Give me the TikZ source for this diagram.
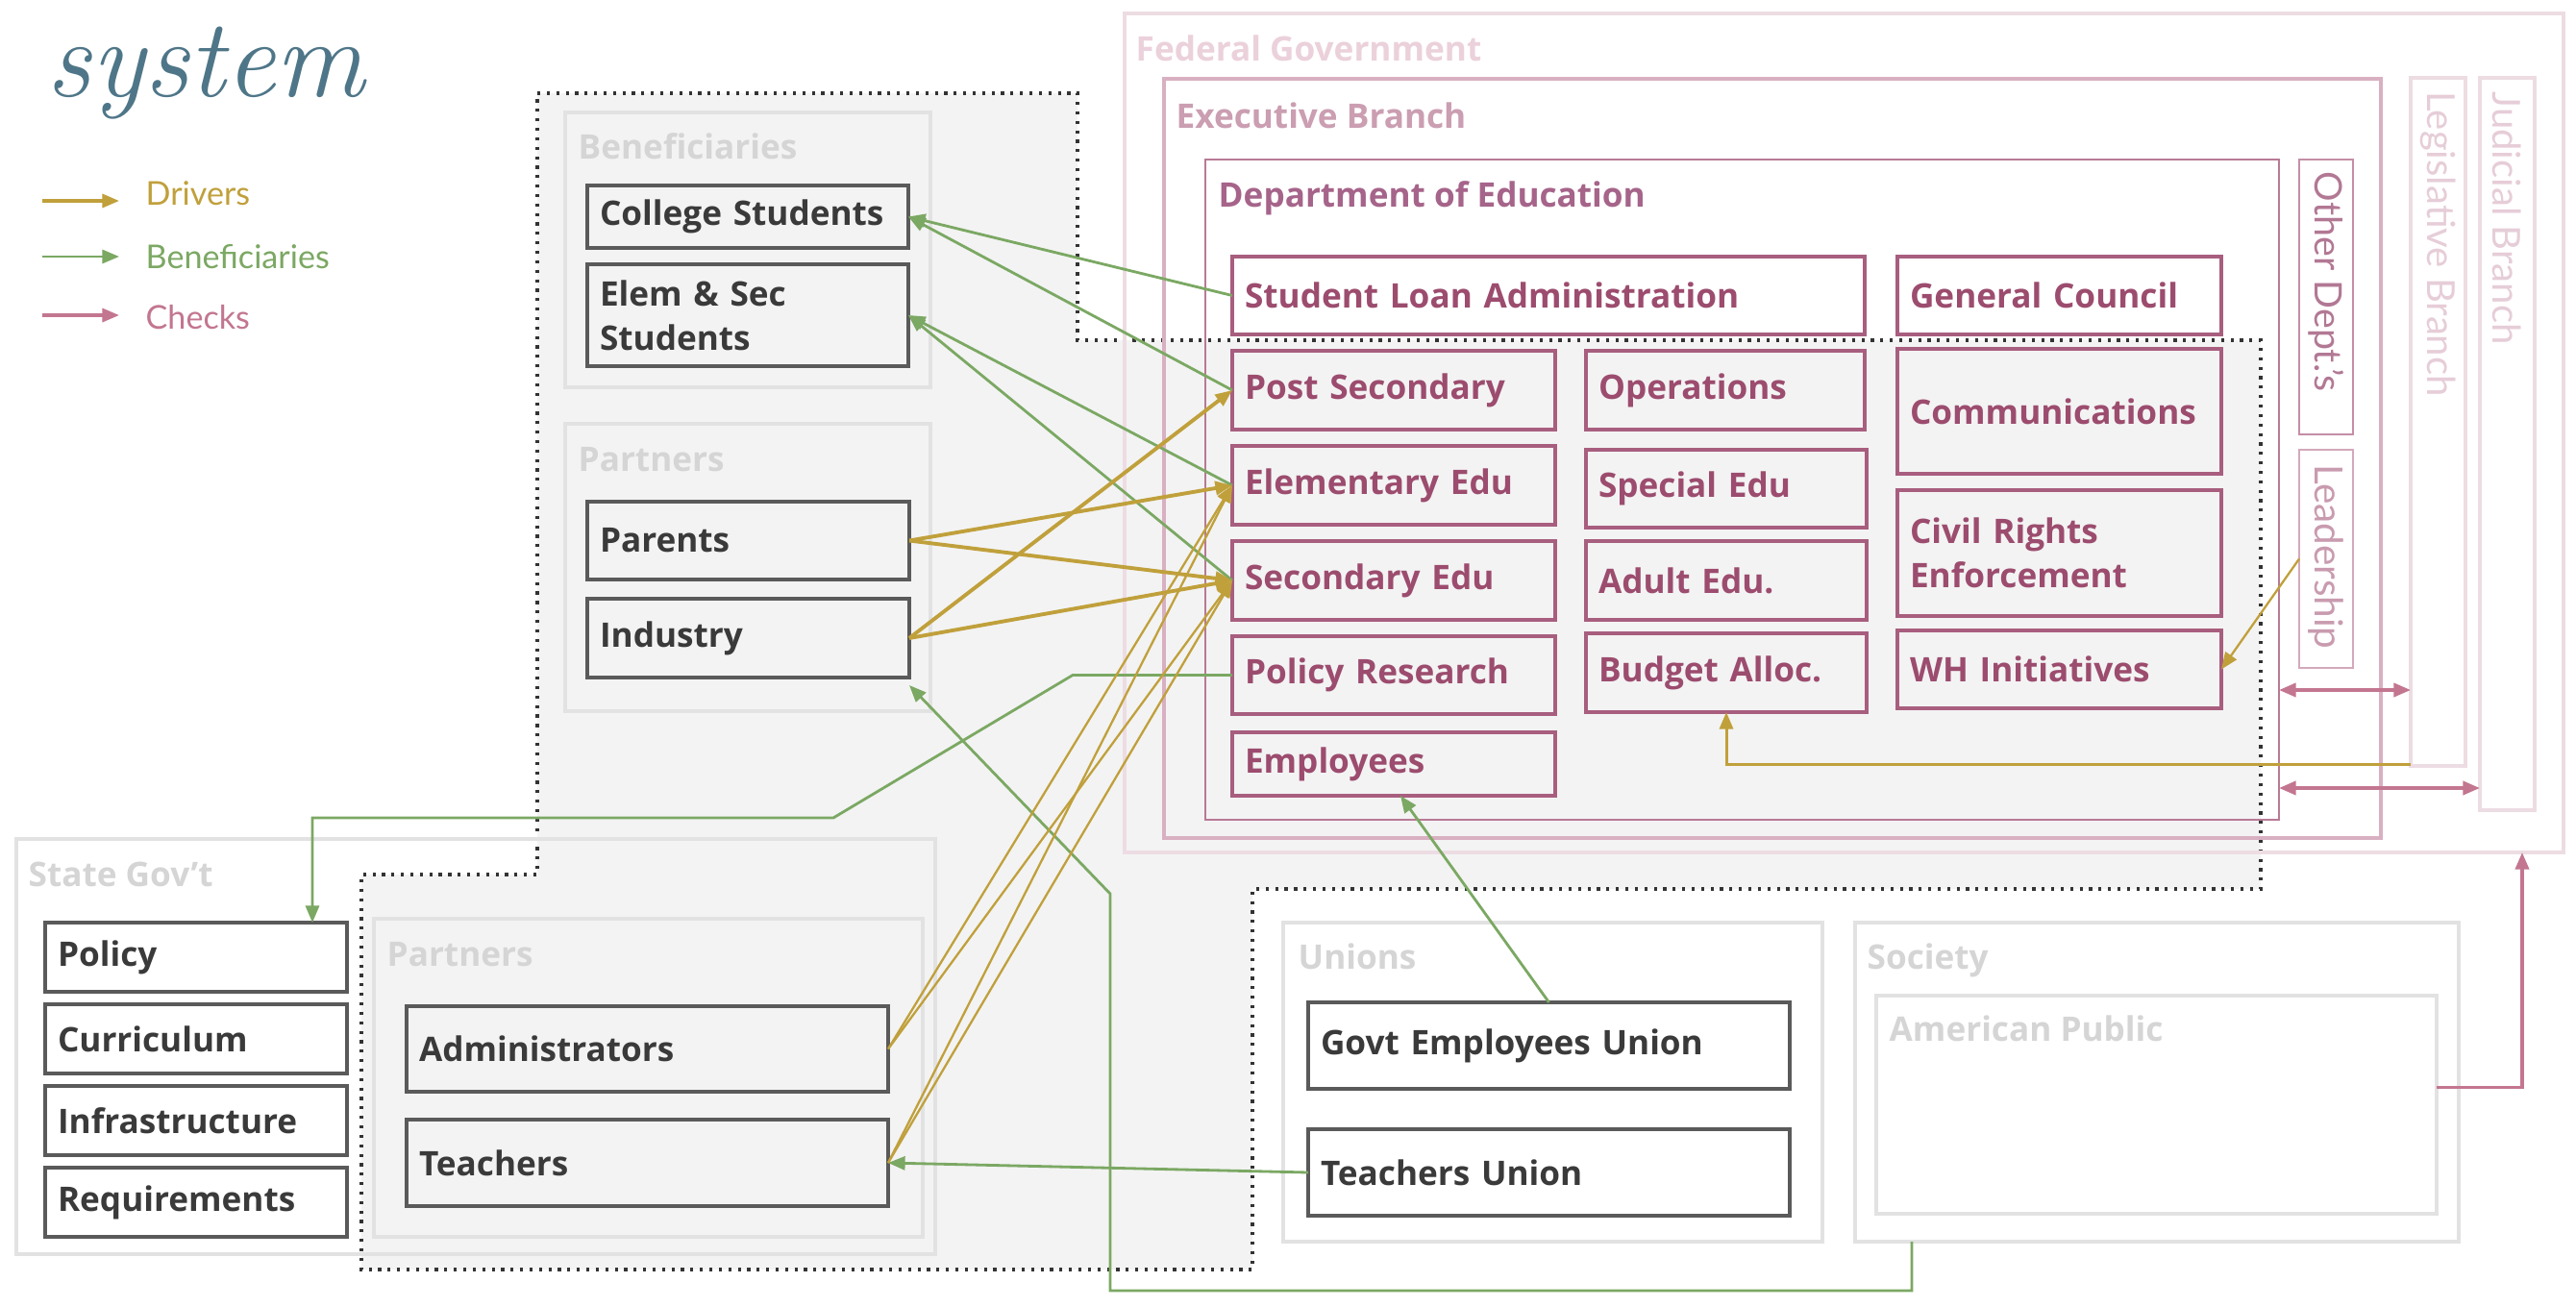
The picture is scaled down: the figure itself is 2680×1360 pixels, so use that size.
\documentclass[tikz,border=0pt]{standalone}
\usepackage{fontspec}
\newfontfamily\eduSans{Lato}
\newfontfamily\eduWide{Open Sans}
\usetikzlibrary{arrows.meta}
\definecolor{eduInk}{HTML}{3A3A3A}
\definecolor{eduEdge}{HTML}{5A5A5A}
\definecolor{eduShade}{HTML}{F3F3F3}
\definecolor{eduFrame}{HTML}{E2E2E2}
\definecolor{eduFaint}{HTML}{D5D5D5}
\definecolor{eduMauve}{HTML}{9C4C6E}
\definecolor{eduMauveEdge}{HTML}{A85E7E}
\definecolor{eduDoe}{HTML}{B87A95}
\definecolor{eduDoeText}{HTML}{A6648A}
\definecolor{eduExec}{HTML}{D8B0C1}
\definecolor{eduExecText}{HTML}{CB9EB1}
\definecolor{eduFed}{HTML}{EDDCE3}
\definecolor{eduFedText}{HTML}{EBD1DB}
\definecolor{eduOther}{HTML}{C48EA6}
\definecolor{eduOtherText}{HTML}{B27894}
\definecolor{eduLead}{HTML}{D4A9BB}
\definecolor{eduLeadText}{HTML}{C99BAF}
\definecolor{eduBranchText}{HTML}{E6CDD8}
\definecolor{eduGold}{HTML}{C0A03B}
\definecolor{eduGreen}{HTML}{7BA863}
\definecolor{eduPink}{HTML}{C37690}
\definecolor{eduSlate}{HTML}{4E7688}
\tikzset{
  edu region/.style={fill=eduShade, draw=black!80, line width=0.9pt, dash pattern=on 0.9pt off 1.9pt},
  edu size/.style 2 args={minimum width=#1*0.01cm, minimum height=#2*0.01cm},
  edu wh/.code 2 args={\pgfmathsetlengthmacro\eduTextW{(#1-26)*0.01cm}%
    \pgfkeysalso{minimum width=#1*0.01cm, minimum height=#2*0.01cm, text width/.expand once=\eduTextW}},
  edu frame/.style={draw=eduFrame, line width=0.9pt, anchor=north west, inner sep=0pt, outer sep=0pt},
  edu box/.style={draw=eduEdge, line width=0.9pt, anchor=north west, inner xsep=0.13cm, inner ysep=0pt,
    outer sep=0pt, align=left, font=\eduWide\bfseries\fontsize{10}{13}\selectfont, text=eduInk},
  edu dept/.style={edu box, draw=eduMauveEdge, text=eduMauve},
  edu label/.style={anchor=base west, inner sep=0pt, font=\eduWide\bfseries\fontsize{10}{12}\selectfont, text=eduFaint},
  edu vlabel/.style={rotate=-90, anchor=west, inner sep=0pt, font=\eduSans\fontsize{11.2}{12}\selectfont},
  edu key/.style={anchor=base west, inner sep=0pt, font=\eduSans\fontsize{9.7}{12}\selectfont},
  edu tip/.style={-{Triangle[length=5pt,width=4pt]}},
  edu driver/.style={draw=eduGold, line width=1.1pt, edu tip},
  edu driver thin/.style={edu driver, line width=0.65pt},
  edu benefit/.style={draw=eduGreen, line width=0.8pt, edu tip},
  edu check/.style={draw=eduPink, line width=1pt, edu tip},
  edu check both/.style={edu check, {Triangle[length=5pt,width=4pt]}-{Triangle[length=5pt,width=4pt]}},
}
\begin{document}
\begin{tikzpicture}[x=0.01cm,y=-0.01cm]
  \useasboundingbox (0,0) rectangle (2680,1360);
  \fill[white] (0,0) rectangle (2680,1360);
  % shaded working area
  \draw[edu region] (559,97) -- (1121,97) -- (1121,354) -- (2352,354) -- (2352,925) -- (1303,925)
    -- (1303,1321) -- (376,1321) -- (376,910) -- (559,910) -- cycle;

  % title and key
  \node[anchor=base west, inner sep=0pt, text=eduSlate, font=\itshape\fontsize{33}{36}\selectfont] (title) at (48,100) {system};
  \coordinate (keyD0) at (44,209); \coordinate (keyD1) at (124,209);
  \coordinate (keyB0) at (44,267); \coordinate (keyB1) at (124,267);
  \coordinate (keyC0) at (44,328); \coordinate (keyC1) at (124,328);
  \draw[edu driver, line width=0.9pt] (keyD0) -- (keyD1);
  \draw[edu benefit] (keyB0) -- (keyB1);
  \draw[edu check, line width=0.9pt] (keyC0) -- (keyC1);
  \node[edu key, text=eduGold] (keyDrivers) at (151,213) {Drivers};
  \node[edu key, text=eduGreen] (keyBenefit) at (151,279) {Beneficiaries};
  \node[edu key, text=eduPink] (keyChecks) at (151,342) {Checks};

  % federal frames
  \node[edu frame, edu size={1497}{873}, draw=eduFed] (fedGov) at (1170,14) {};
  \node[edu label, text=eduFedText] (fedLabel) at (1181,63) {Federal Government};
  \node[edu frame, edu size={1266}{790}, draw=eduExec] (exec) at (1211,82) {};
  \node[edu label, text=eduExecText] (execLabel) at (1223,133) {Executive Branch};
  \node[edu frame, edu size={1117}{687}, draw=eduDoe, line width=0.8pt] (doe) at (1254,166) {};
  \node[edu label, text=eduDoeText] (doeLabel) at (1267,215) {Department of Education};
  \node[edu frame, edu size={56}{286}, draw=eduOther, line width=0.8pt] (otherDept) at (2392,166) {};
  \node[edu vlabel, text=eduOtherText] (otherLabel) at ([yshift=-0.12cm]otherDept.north) {Other Dept.’s};
  \node[edu frame, edu size={56}{227}, draw=eduLead, line width=0.8pt] (leader) at (2392,468) {};
  \node[edu vlabel, text=eduLeadText, font=\eduSans\fontsize{11.5}{12}\selectfont] (leaderLabel) at ([yshift=-0.15cm]leader.north) {Leadership};
  \node[edu frame, edu size={57}{716}, draw=eduFed] (legis) at (2508,81) {};
  \node[edu vlabel, text=eduBranchText, font=\eduSans\fontsize{11.4}{12}\selectfont] (legisLabel) at ([yshift=-0.14cm]legis.north) {Legislative Branch};
  \node[edu frame, edu size={57}{762}, draw=eduFed] (judic) at (2580,81) {};
  \node[edu vlabel, text=eduBranchText, font=\eduSans\fontsize{11.4}{12}\selectfont] (judicLabel) at ([yshift=-0.14cm]judic.north) {Judicial Branch};

  % other frames
  \node[edu frame, edu size={380}{286}] (benGroup) at (588,117) {};
  \node[edu label] (benLabel) at (601,165) {Beneficiaries};
  \node[edu frame, edu size={380}{299}] (partUp) at (588,441) {};
  \node[edu label] (partUpLabel) at (601,490) {Partners};
  \node[edu frame, edu size={956}{432}] (stateGov) at (17,873) {};
  \node[edu label] (stateLabel) at (29,922) {State Gov’t};
  \node[edu frame, edu size={571}{331}] (partLow) at (389,956) {};
  \node[edu label] (partLowLabel) at (402,1005) {Partners};
  \node[edu frame, edu size={561}{332}] (unions) at (1335,960) {};
  \node[edu label] (unionsLabel) at (1350,1008) {Unions};
  \node[edu frame, edu size={628}{332}] (society) at (1930,960) {};
  \node[edu label] (societyLabel) at (1942,1008) {Society};
  \node[edu frame, edu size={583}{227}] (amPublic) at (1952,1036) {};
  \node[edu label] (amPublicLabel) at (1965,1083) {American Public};

  % department offices
  \node[edu dept, edu wh={658}{81}] (sla) at (1282,267) {Student Loan Administration};
  \node[edu dept, edu wh={337}{81}] (gc) at (1974,267) {General Council};
  \node[edu dept, edu wh={336}{82}] (postSec) at (1282,365) {Post Secondary};
  \node[edu dept, edu wh={290}{82}] (ops) at (1650,365) {Operations};
  \node[edu dept, edu wh={337}{130}] (comms) at (1974,363) {Communications};
  \node[edu dept, edu wh={336}{82}] (elem) at (1282,464) {Elementary Edu};
  \node[edu dept, edu wh={292}{81}] (spec) at (1650,468) {Special Edu};
  \node[edu dept, edu wh={336}{82}] (sec) at (1282,563) {Secondary Edu};
  \node[edu dept, edu wh={292}{82}] (adult) at (1650,563) {Adult Edu.};
  \node[edu dept, edu wh={337}{131}] (civil) at (1974,510) {Civil Rights\\Enforcement};
  \node[edu dept, edu wh={336}{81}] (policyRes) at (1282,662) {Policy Research};
  \node[edu dept, edu wh={292}{82}] (budget) at (1650,659) {Budget Alloc.};
  \node[edu dept, edu wh={337}{81}] (wh) at (1974,656) {WH Initiatives};
  \node[edu dept, edu wh={336}{66}] (employees) at (1282,762) {Employees};

  % outside actors
  \node[edu box, edu wh={334}{65}] (college) at (611,193) {College Students};
  \node[edu box, edu wh={334}{106}] (elemSec) at (611,275) {Elem \& Sec\\Students};
  \node[edu box, edu wh={335}{81}] (parents) at (611,522) {Parents};
  \node[edu box, edu wh={335}{82}] (industry) at (611,623) {Industry};
  \node[edu box, edu wh={314}{72}] (policy) at (47,960) {Policy};
  \node[edu box, edu wh={314}{72}] (curric) at (47,1045) {Curriculum};
  \node[edu box, edu wh={314}{72}] (infra) at (47,1130) {Infrastructure};
  \node[edu box, edu wh={314}{72}] (reqs) at (47,1215) {Requirements};
  \node[edu box, edu wh={501}{89}] (admins) at (423,1047) {Administrators};
  \node[edu box, edu wh={501}{90}] (teachers) at (423,1165) {Teachers};
  \node[edu box, edu wh={501}{90}] (geu) at (1361,1043) {Govt Employees Union};
  \node[edu box, edu wh={501}{90}] (tu) at (1361,1175) {Teachers Union};

  % beneficiaries
  \draw[edu benefit] (sla.west) -- (college.east);
  \draw[edu benefit] (postSec.west) -- (college.east);
  \draw[edu benefit] (elem.west) -- (elemSec.east);
  \draw[edu benefit] (sec.west) -- (elemSec.east);
  \coordinate (prBend) at (867,851);
  \draw[edu benefit] (policyRes.west) -- ++(-166,0) -- (prBend) -| ([xshift=-0.36cm]policy.north east);
  \draw[edu benefit] (geu.north) -- ([xshift=0.07cm]employees.south);
  \draw[edu benefit] (tu.west) -- (teachers.east);
  \coordinate (socLow) at (1155,1343);
  \coordinate (socBend) at (1155,930);
  \draw[edu benefit] ([xshift=0.59cm]society.south west) |- (socLow) -- (socBend) -- ([yshift=-0.08cm]industry.south east);

  % drivers
  \draw[edu driver] (parents.east) -- (elem.west);
  \draw[edu driver] (parents.east) -- (sec.west);
  \draw[edu driver] (industry.east) -- (postSec.west);
  \draw[edu driver] (industry.east) -- (sec.west);
  \foreach \src in {admins,teachers}
    \foreach \dst in {elem,sec}
      \draw[edu driver thin] (\src.east) -- (\dst.west);
  \draw[edu driver, line width=0.85pt] ([yshift=0.02cm]legis.south west) -| (budget.south);
  \draw[edu driver thin] (leader.west) -- (wh.east);

  % checks
  \coordinate (chkLeg) at (2400,718);
  \coordinate (chkJud) at (2400,820);
  \draw[edu check both] (doe.east |- chkLeg) -- (legis.west |- chkLeg);
  \draw[edu check both] (doe.east |- chkJud) -- (judic.west |- chkJud);
  \draw[edu check] ([yshift=0.18cm]amPublic.east) -| ([xshift=-0.43cm]fedGov.south east);
\end{tikzpicture}
\end{document}
